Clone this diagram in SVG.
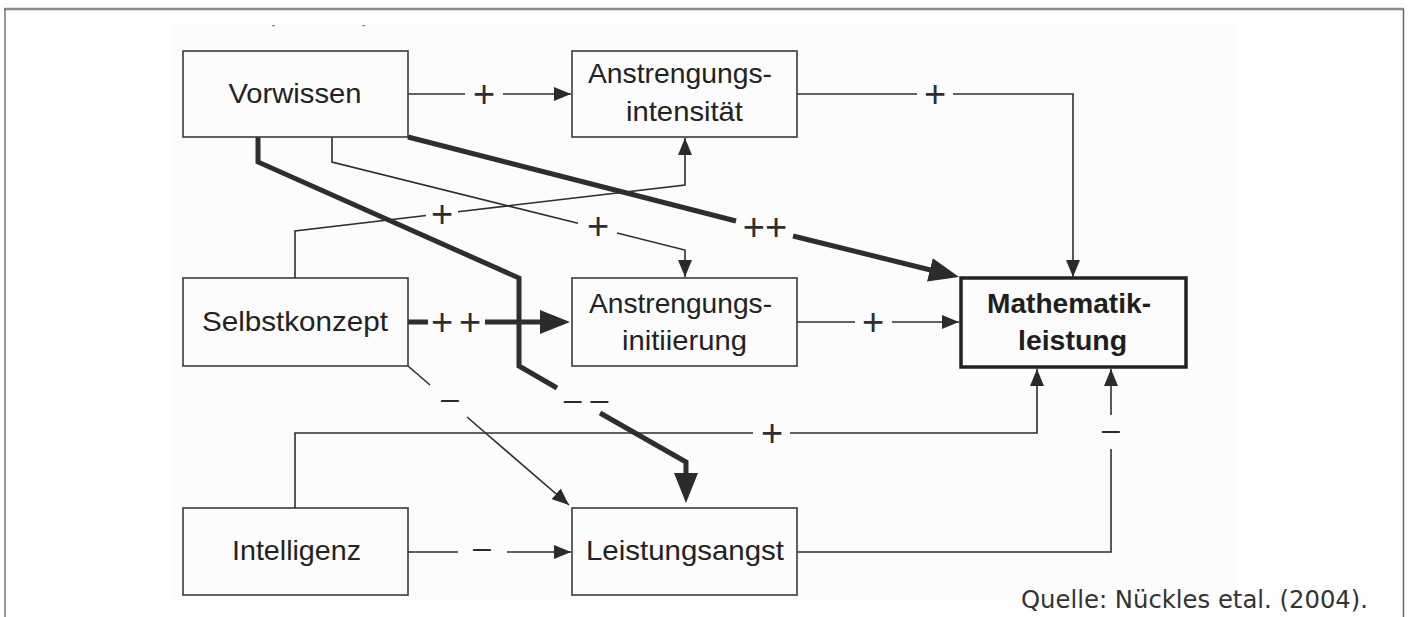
<svg xmlns="http://www.w3.org/2000/svg" width="1411" height="617" viewBox="0 0 1411 617">
  <style>
    .box { fill: none; stroke: #3a3a3a; stroke-width: 1.6; }
    .boxB { fill: none; stroke: #222; stroke-width: 3.5; }
    .t { font-family: "Liberation Sans", Arial, sans-serif; font-size: 28px; fill: #222; text-anchor: middle; }
    .tb { font-family: "Liberation Sans", Arial, sans-serif; font-size: 28px; font-weight: bold; fill: #1e1e1e; text-anchor: middle; }
    .plus { font-family: "Liberation Sans", Arial, sans-serif; font-size: 38px; fill: #2e2e2e; text-anchor: middle; }
    .minus { font-family: "Liberation Sans", Arial, sans-serif; font-size: 32px; fill: #2a2a2a; text-anchor: middle; }
    .thin { fill: none; stroke: #2e2e2e; stroke-width: 1.6; }
    .thick { fill: none; stroke: #2e2e2e; stroke-width: 5; stroke-linejoin: miter; }
    .cap { font-family: "DejaVu Sans", Verdana, sans-serif; font-size: 24px; fill: #333; }
  </style>
  <defs>
    <marker id="ah" markerUnits="userSpaceOnUse" markerWidth="18" markerHeight="14" refX="17" refY="7" orient="auto">
      <path d="M0,0 L17,7 L0,14 z" fill="#2b2b2b"/>
    </marker>
    <marker id="ahBig" markerUnits="userSpaceOnUse" markerWidth="32" markerHeight="26" refX="10" refY="12" orient="auto">
      <path d="M0,0 L30,12 L0,24 z" fill="#2b2b2b"/>
    </marker>
  </defs>

  <rect x="0" y="0" width="1411" height="617" fill="#ffffff"/>
  <rect x="172" y="25" width="1063" height="575" fill="#fcfcfc"/>
  <g id="frame">
    <line x1="4" y1="9" x2="1404" y2="9" stroke="#8a8a8a" stroke-width="2.5"/>
    <line x1="5" y1="9" x2="5" y2="617" stroke="#555" stroke-width="1.2"/>
    <line x1="1403.5" y1="9" x2="1403.5" y2="617" stroke="#666" stroke-width="1.5"/>
    <rect x="272" y="25" width="3" height="1.2" fill="#888"/>
    <rect x="362" y="25" width="3" height="1.2" fill="#888"/>
  </g>

  <g id="connectors">
    <!-- Vorwissen -> Anstrengungsintensitaet -->
    <path class="thin" d="M408,94 H465"/>
    <path class="thin" d="M503,94 H571" marker-end="url(#ah)"/>
    <text class="plus" x="484" y="107">+</text>
    <!-- Anstrengungsintensitaet -> Mathematikleistung -->
    <path class="thin" d="M797,94 H917"/>
    <path class="thin" d="M953,94 H1073 V277" marker-end="url(#ah)"/>
    <text class="plus" x="935" y="107">+</text>
    <!-- Selbstkonzept -> Anstrengungsintensitaet -->
    <path class="thin" d="M295,278 V231 L426,215.5"/>
    <path class="thin" d="M458,211.7 L685,185 V138" marker-end="url(#ah)"/>
    <text class="plus" x="442" y="227">+</text>
    <!-- Vorwissen -> Anstrengungsinitiierung -->
    <path class="thin" d="M332,137 V162 L578,223.3"/>
    <path class="thin" d="M617,233 L685,250 V277" marker-end="url(#ah)"/>
    <text class="plus" x="598" y="239">+</text>
    <!-- Vorwissen -> Mathematikleistung (thick) -->
    <path class="thick" d="M408,137 L736,221"/>
    <path class="thick" d="M793,236 L939.6,272.2" marker-end="url(#ahBig)"/>
    <text class="plus" x="765" y="240">++</text>
    <!-- Vorwissen -> Leistungsangst (thick) -->
    <path class="thick" d="M258,137 V162 L519,278 V366 L557,388"/>
    <path class="thick" d="M600,413 L686,462 V483" marker-end="url(#ahBig)"/>
    <text class="minus" x="586" y="410">– –</text>
    <!-- Selbstkonzept -> Anstrengungsinitiierung (thick) -->
    <path class="thick" d="M408,322 H428"/>
    <path class="thick" d="M485,322 H550" marker-end="url(#ahBig)"/>
    <text class="plus" x="442" y="335">+</text>
    <text class="plus" x="470" y="335">+</text>
    <!-- Anstrengungsinitiierung -> Mathematikleistung -->
    <path class="thin" d="M797,322 H855"/>
    <path class="thin" d="M892,322 H959" marker-end="url(#ah)"/>
    <text class="plus" x="873" y="335">+</text>
    <!-- Selbstkonzept -> Leistungsangst -->
    <path class="thin" d="M408,366 L430,385"/>
    <path class="thin" d="M467,417 L569,505" marker-end="url(#ah)"/>
    <text class="minus" x="450" y="409">–</text>
    <!-- Intelligenz -> Mathematikleistung -->
    <path class="thin" d="M295,508 V433 H753"/>
    <path class="thin" d="M790,433 H1037 V369" marker-end="url(#ah)"/>
    <text class="plus" x="772" y="446">+</text>
    <!-- Intelligenz -> Leistungsangst -->
    <path class="thin" d="M408,552 H458"/>
    <path class="thin" d="M507,552 H571" marker-end="url(#ah)"/>
    <text class="minus" x="482" y="558">–</text>
    <!-- Leistungsangst -> Mathematikleistung -->
    <path class="thin" d="M797,552 H1111 V449"/>
    <path class="thin" d="M1111,415 V369" marker-end="url(#ah)"/>
    <text class="minus" x="1111" y="440">–</text>
  </g>

  <g id="vorwissen">
    <rect class="box" x="183" y="51" width="225" height="86"/>
    <text class="t" x="295" y="103" textLength="133" lengthAdjust="spacingAndGlyphs">Vorwissen</text>
  </g>
  <g id="anstrengungsintensitaet">
    <rect class="box" x="572" y="51" width="225" height="86"/>
    <text class="t" x="680" y="83" textLength="184" lengthAdjust="spacingAndGlyphs">Anstrengungs-</text>
    <text class="t" x="684.5" y="121" textLength="117" lengthAdjust="spacingAndGlyphs">intensität</text>
  </g>
  <g id="selbstkonzept">
    <rect class="box" x="183" y="278" width="225" height="88"/>
    <text class="t" x="295" y="331" textLength="186" lengthAdjust="spacingAndGlyphs">Selbstkonzept</text>
  </g>
  <g id="anstrengungsinitiierung">
    <rect class="box" x="572" y="278" width="225" height="88"/>
    <text class="t" x="680.5" y="313" textLength="183" lengthAdjust="spacingAndGlyphs">Anstrengungs-</text>
    <text class="t" x="684.5" y="350" textLength="125" lengthAdjust="spacingAndGlyphs">initiierung</text>
  </g>
  <g id="mathematikleistung">
    <rect class="boxB" x="961" y="278" width="225" height="89"/>
    <text class="tb" x="1069" y="313" textLength="164" lengthAdjust="spacingAndGlyphs">Mathematik-</text>
    <text class="tb" x="1072.5" y="350" textLength="109" lengthAdjust="spacingAndGlyphs">leistung</text>
  </g>
  <g id="intelligenz">
    <rect class="box" x="183" y="508" width="225" height="87"/>
    <text class="t" x="296.5" y="560" textLength="129" lengthAdjust="spacingAndGlyphs">Intelligenz</text>
  </g>
  <g id="leistungsangst">
    <rect class="box" x="572" y="508" width="225" height="87"/>
    <text class="t" x="685" y="560" textLength="198" lengthAdjust="spacingAndGlyphs">Leistungsangst</text>
  </g>

  <text class="cap" x="1021" y="608" textLength="347" lengthAdjust="spacingAndGlyphs">Quelle: Nückles etal. (2004).</text>
</svg>
